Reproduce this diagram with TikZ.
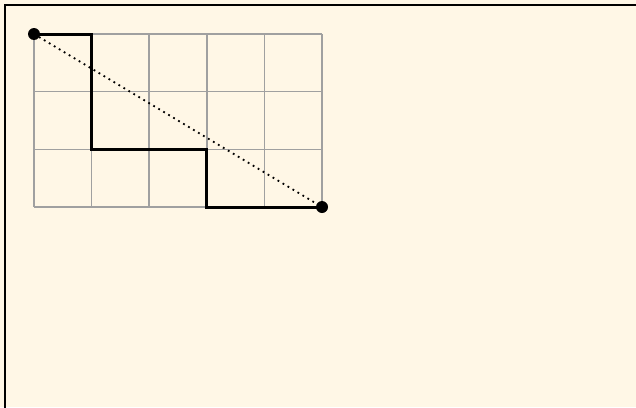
\documentclass[tikz,border=0pt]{standalone}
\definecolor{bgcream}{RGB}{255,247,230}
\definecolor{gridgray}{RGB}{160,160,160}
\tikzset{
  gridline/.style={draw=gridgray, line width=1.5pt},
  pathline/.style={draw=black, line width=3pt, line join=miter},
  endpt/.style={circle, fill=black, inner sep=0pt, minimum size=12pt},
  diagline/.style={draw=black, line width=1.8pt, dash pattern=on 1.8pt off 4pt},
  frameline/.style={draw=black, line width=2pt}
}
\begin{document}
\begin{tikzpicture}[x=1pt,y=-1pt]
\useasboundingbox (0,0) rectangle (636,407);
\fill[bgcream] (0,0) rectangle (636,407);
\draw[frameline] (4.5,420) -- (4.5,4.5) -- (650,4.5);
% grid
\foreach \i in {0,...,5} {
  \draw[gridline] (34+57.6*\i,34) -- (34+57.6*\i,207);
}
\foreach \j in {0,...,3} {
  \draw[gridline] (34,34+57.67*\j) -- (322,34+57.67*\j);
}
\coordinate (s) at (34,34);
\coordinate (e) at (322,207);
\draw[diagline] (s) -- (e);
\draw[pathline] (s) -- (91.6,34) -- (91.6,149.3) -- (206.8,149.3) -- (206.8,207) -- (e);
\node[endpt] (a) at (s) {};
\node[endpt] (b) at (e) {};
\end{tikzpicture}
\end{document}
